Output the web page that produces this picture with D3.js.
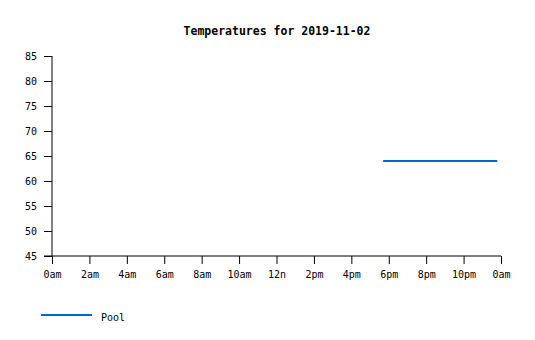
<!DOCTYPE html>
<html>
<head>
<meta charset="utf-8">
<script src="https://d3js.org/d3.v7.min.js"></script>
<style>
  body { margin: 0; background: #fff; }
  text { font-family: "DejaVu Sans Mono", "Liberation Mono", monospace; }
</style>
</head>
<body>
<div id="chart"></div>
<script>
// readings for the day (hours since midnight)
let hours = [17.7, 18.5, 19.5, 20.5, 21.5, 22.5, 23.8];
let poolTemps = [64, 64, 64, 64, 64, 64, 64];
let tickHours = [0, 2, 4, 6, 8, 10, 12, 14, 16, 18, 20, 22, 24];
let tickLabels = ['0am', '2am', '4am', '6am', '8am', '10am', '12n', '2pm', '4pm', '6pm', '8pm', '10pm', '0am'];
let yTicks = [45, 50, 55, 60, 65, 70, 75, 80, 85];

let margin = {left: 52, top: 56, right: 34, bottom: 84},
    width = 535 - margin.left - margin.right,
    height = 340 - margin.top - margin.bottom;

let svg = d3.select('#chart')
  .append('svg')
  .attr('width', 535)
  .attr('height', 340);

let g = svg.append('g')
  .attr('transform', `translate(${margin.left},${margin.top})`);

let x = d3.scaleLinear().domain([0, 24]).range([0, width]);
let y = d3.scaleLinear().domain([45, 85]).range([height, 0]);

// title
svg.append('text')
  .attr('x', 277)
  .attr('y', 35)
  .attr('text-anchor', 'middle')
  .style('font-size', '11.5px')
  .style('font-weight', 'bold')
  .text('Temperatures for 2019-11-02');

// axes
g.append('g')
  .call(d3.axisLeft(y).tickValues(yTicks).tickSize(8).tickPadding(7))
  .call(a => a.select('.domain').attr('d', `M0,0V${height}`))
  .selectAll('text').style('font-size', '10px').style('font-family', 'DejaVu Sans Mono, monospace');

g.append('g')
  .attr('transform', `translate(0,${height})`)
  .call(d3.axisBottom(x).tickValues(tickHours).tickFormat((d, i) => tickLabels[i]).tickSize(8).tickPadding(7))
  .call(a => a.select('.domain').attr('d', `M-8,0H${width}`))
  .selectAll('text').style('font-size', '10px').style('font-family', 'DejaVu Sans Mono, monospace');

// series line
let line = d3.line()
  .x((d, i) => x(hours[i]))
  .y(d => y(d));

g.append('path')
  .datum(poolTemps)
  .attr('fill', 'none')
  .attr('stroke', '#0066cc')
  .attr('stroke-width', 2)
  .attr('d', line);

// legend
let legend = svg.append('g').attr('transform', 'translate(41,315)');
legend.append('line')
  .attr('x1', 0).attr('x2', 51)
  .attr('stroke', '#0066cc')
  .attr('stroke-width', 2);
legend.append('text')
  .attr('x', 60)
  .attr('y', 6)
  .style('font-size', '10px')
  .text('Pool');
</script>
</body>
</html>
